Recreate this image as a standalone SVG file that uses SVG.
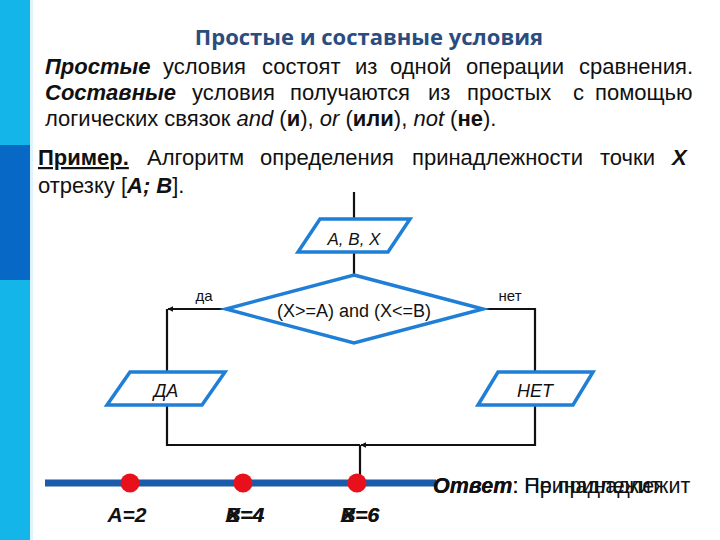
<svg xmlns="http://www.w3.org/2000/svg" width="720" height="540" viewBox="0 0 720 540">
<style>
.t{font-family:"Liberation Sans",Arial,sans-serif;fill:#111}
.p{font-size:22px}
.b{font-weight:bold}
.i{font-style:italic}
.title{font-family:"Open Sans","Liberation Sans",sans-serif;font-weight:bold;font-size:22px;fill:#2b4c7e}
.shape{fill:#fff;stroke:#1f7fd6;stroke-width:3.5;stroke-linejoin:miter}
.ln{fill:none;stroke:#111;stroke-width:2.2}
.dot{fill:#e8101a}
</style>
<defs>
<marker id="ar" viewBox="0 0 10 10" refX="9" refY="5" markerWidth="6" markerHeight="6" markerUnits="userSpaceOnUse" orient="auto">
<path d="M0,0 L10,5 L0,10 z" fill="#111"/>
</marker>
</defs>
<rect width="720" height="540" fill="#fff"/>
<g id="sidebar">
<rect x="0" y="0" width="30" height="540" fill="#14b6ea"/>
<rect x="0" y="145" width="30" height="135" fill="#0868c6"/>
<rect x="30" y="0" width="3" height="540" fill="#dff3fb"/>
</g>
<text class="title" x="369" y="45" text-anchor="middle">Простые и составные условия</text>
<g id="para" class="t p">
<text y="74"><tspan x="45" class="b i">Простые</tspan><tspan x="163">условия</tspan><tspan x="262">состоят</tspan><tspan x="355">из</tspan><tspan x="390">одной</tspan><tspan x="466">операции</tspan><tspan x="579">сравнения.</tspan></text>
<text y="100"><tspan x="45" class="b i">Составные</tspan><tspan x="192">условия</tspan><tspan x="290">получаются</tspan><tspan x="428">из</tspan><tspan x="467">простых</tspan><tspan x="573">с</tspan><tspan x="595">помощью</tspan></text>
<text x="45" y="126">логических связок <tspan class="i">and</tspan> (<tspan class="b">и</tspan>), <tspan class="i">or</tspan> (<tspan class="b">или</tspan>), <tspan class="i">not</tspan> (<tspan class="b">не</tspan>).</text>
<text y="165"><tspan x="38" class="b" text-decoration="underline">Пример.</tspan><tspan x="147">Алгоритм</tspan><tspan x="260">определения</tspan><tspan x="412">принадлежности</tspan><tspan x="600">точки</tspan><tspan x="672" class="b i">X</tspan></text>
<text x="38" y="193">отрезку [<tspan class="b i">A; B</tspan>].</text>
</g>
<g id="connectors">
<line class="ln" x1="354" y1="192" x2="354" y2="219"/>
<line class="ln" x1="354" y1="252" x2="354" y2="275"/>
<polyline class="ln" points="226,309 168,309" marker-end="url(#ar)"/>
<line class="ln" x1="167" y1="309" x2="167" y2="372"/>
<polyline class="ln" points="483,309 535,309 535,372"/>
<polyline class="ln" points="167,405 167,445 360,445"/>
<polyline class="ln" points="535,405 535,445 361,445" marker-end="url(#ar)"/>
<line class="ln" x1="360" y1="445" x2="360" y2="476"/>
</g>
<g id="input">
<polygon class="shape" points="320,219 410,219 388,252 298,252"/>
<text class="t i" x="354" y="245" font-size="17" text-anchor="middle">A, B, X</text>
</g>
<g id="cond">
<polygon class="shape" points="354,275 483,309 354,343 226,309"/>
<text class="t" x="354" y="317" font-size="18" text-anchor="middle">(X&gt;=A) and (X&lt;=B)</text>
</g>
<g id="labels" class="t" font-size="15">
<text x="204" y="301" text-anchor="middle">да</text>
<text x="510" y="301" text-anchor="middle">нет</text>
</g>
<g id="yes">
<polygon class="shape" points="130,372 225,372 202,405 107,405"/>
<text class="t i" x="166" y="397" font-size="18" text-anchor="middle">ДА</text>
</g>
<g id="no">
<polygon class="shape" points="498,372 593,372 573,405 478,405"/>
<text class="t i" x="535" y="397" font-size="18" text-anchor="middle">НЕТ</text>
</g>
<g id="numberline">
<line x1="45" y1="483" x2="436" y2="483" stroke="#1c5aaa" stroke-width="7"/>
<circle class="dot" cx="130" cy="483" r="9.5"/>
<circle class="dot" cx="243" cy="483" r="9.5"/>
<circle class="dot" cx="357" cy="483" r="9.5"/>
<g class="t b i" font-size="21" text-anchor="middle">
<text x="127" y="522">A=2</text>
<text x="245" y="522">X=4</text>
<text x="245" y="522">B=4</text>
<text x="360" y="522">B=6</text>
<text x="360" y="522">X=6</text>
</g>
</g>
<g id="answer" class="t" font-size="21.5">
<text x="433" y="493"><tspan class="b i">Ответ</tspan>: Принадлежит</text>
<text x="433" y="493"><tspan class="b i">Ответ</tspan>: Не принадлежит</text>
</g>
</svg>
